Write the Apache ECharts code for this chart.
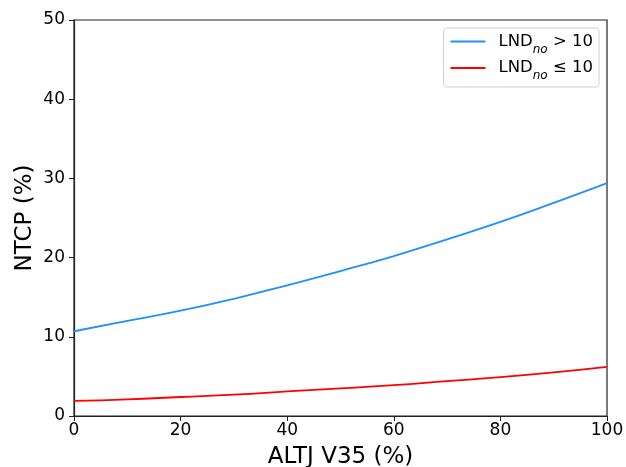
<!DOCTYPE html>
<html>
<head>
<meta charset="utf-8">
<script src="https://cdn.jsdelivr.net/npm/echarts@6/dist/echarts.min.js"></script>
<style>html,body{margin:0;padding:0;background:#fff}#c{width:626px;height:467px}</style>
</head>
<body>
<div id="c"></div>
<script>
const xValues = [0, 10, 20, 30, 40, 50, 60, 70, 80, 90, 100];
const seriesHigh = [10.7, 12.0, 13.3, 14.8, 16.5, 18.3, 20.2, 22.3, 24.5, 26.9, 29.4];
const seriesLow = [1.9, 2.1, 2.4, 2.7, 3.1, 3.5, 3.9, 4.4, 4.9, 5.5, 6.2];
const xTicks = [0, 20, 40, 60, 80, 100];
const yTicks = [0, 10, 20, 30, 40, 50];
const names = ['high', 'low'];

const font = 'DejaVu Sans';
const chart = echarts.init(document.getElementById('c'));
chart.setOption({
  animation: false,
  grid: {left: 74, top: 20, right: 19, bottom: 51, containLabel: false, outerBoundsMode: 'none',
    show: true, borderColor: '#222', borderWidth: 1.2, backgroundColor: 'transparent'},
  legend: {
    orient: 'vertical', right: 27, top: 28, itemWidth: 35, itemHeight: 2, itemGap: 4,
    padding: [5, 6, 5, 7], borderColor: '#d0d0d0', borderWidth: 1, borderRadius: 3,
    icon: 'rect',
    formatter: function (n) {
      return n === 'high' ? '{p|}{a|LND}{s|no}{a| > 10}' : '{p|}{a|LND}{s|no}{a| ≤ 10}';
    },
    textStyle: {
      fontFamily: font, color: '#000', fontSize: 16,
      rich: {
        p: {width: 8, fontSize: 16, lineHeight: 20},
        a: {fontFamily: font, fontSize: 16.5, color: '#000', verticalAlign: 'middle', lineHeight: 20},
        s: {fontFamily: font, fontSize: 12, fontStyle: 'italic', color: '#000', verticalAlign: 'bottom', lineHeight: 14, padding: [0, 0, -4, 0]}
      }
    },
    data: names
  },
  xAxis: {
    type: 'value', min: 0, max: 100, interval: 20,
    name: 'ALTJ V35 (%)', nameLocation: 'middle', nameGap: 30, nameMoveOverlap: false,
    nameTextStyle: {fontFamily: font, fontSize: 23, color: '#000'},
    axisLine: {show: true, lineStyle: {color: '#222', width: 1.2}},
    axisTick: {show: true, length: 5, lineStyle: {color: '#222'}},
    axisLabel: {fontFamily: font, fontSize: 17, color: '#000', margin: 6,
      formatter: v => xTicks.includes(v) ? String(v) : ''},
    splitLine: {show: false}
  },
  yAxis: {
    type: 'value', min: 0, max: 50, interval: 10,
    name: 'NTCP (%)', nameLocation: 'middle', nameGap: 37, nameMoveOverlap: false,
    nameTextStyle: {fontFamily: font, fontSize: 23, color: '#000'},
    axisLine: {show: true, lineStyle: {color: '#222', width: 1.2}},
    axisTick: {show: true, length: 5, lineStyle: {color: '#222'}},
    axisLabel: {fontFamily: font, fontSize: 17, color: '#000', margin: 9,
      formatter: v => yTicks.includes(v) ? String(v) : ''},
    splitLine: {show: false}
  },
  series: [
    {name: 'high', type: 'line', smooth: true, showSymbol: false, color: '#1E90FF',
     lineStyle: {width: 1.8, color: '#1E90FF'}, data: xValues.map((x, i) => [x, seriesHigh[i]])},
    {name: 'low', type: 'line', smooth: true, showSymbol: false, color: '#FF0000',
     lineStyle: {width: 1.8, color: '#FF0000'}, data: xValues.map((x, i) => [x, seriesLow[i]])}
  ]
});
</script>
</body>
</html>
